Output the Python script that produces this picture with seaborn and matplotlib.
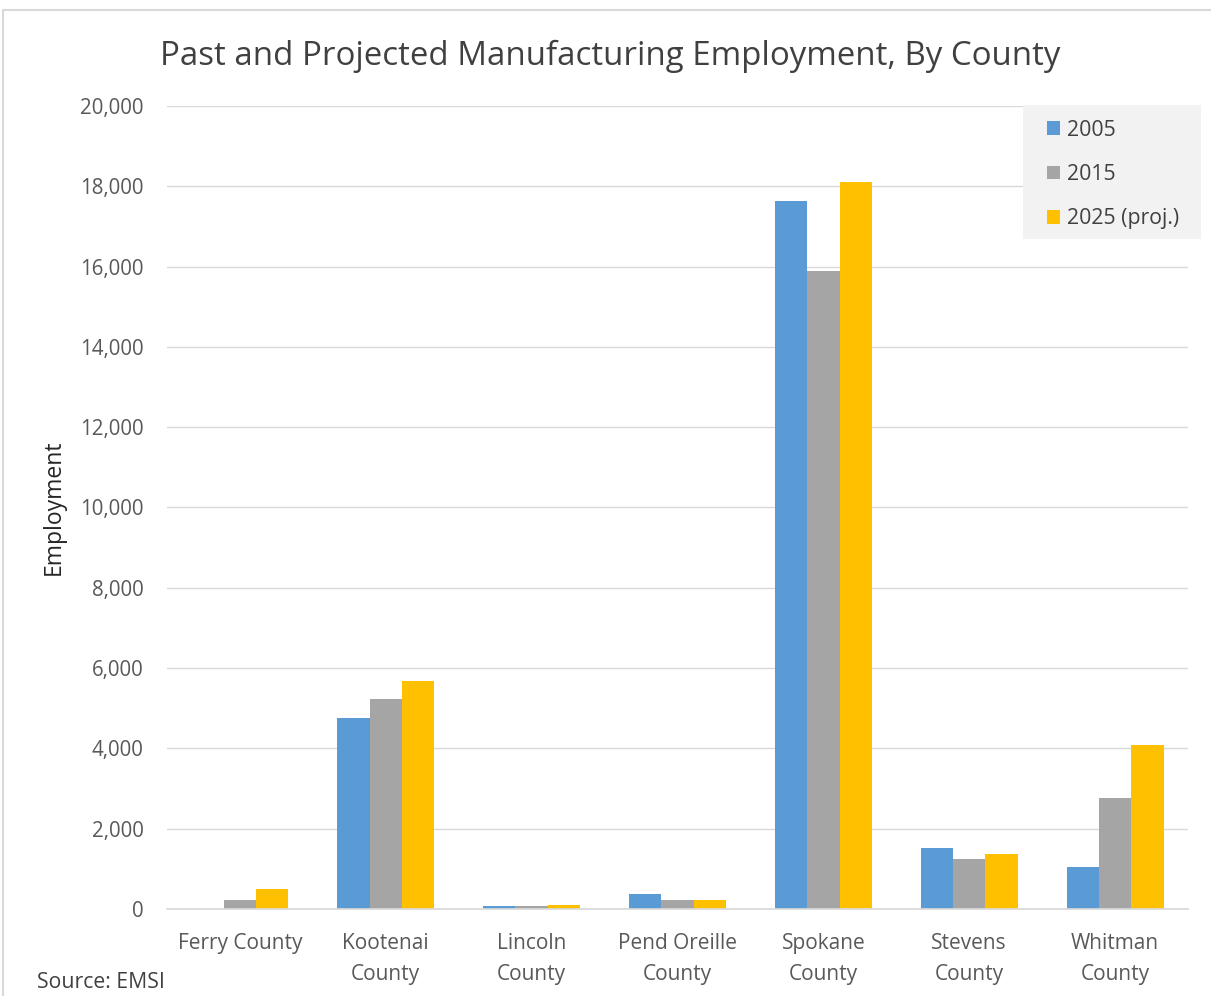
import matplotlib
matplotlib.use("Agg")
import matplotlib.pyplot as plt
import seaborn as sns
import pandas as pd
from matplotlib.patches import Rectangle
from matplotlib.ticker import FuncFormatter, MultipleLocator

counties = ["Ferry County", "Kootenai\nCounty", "Lincoln\nCounty", "Pend Oreille\nCounty",
            "Spokane\nCounty", "Stevens\nCounty", "Whitman\nCounty"]
series_names = ["2005", "2015", "2025 (proj.)"]
v2005 = [0, 4750, 75, 375, 17630, 1510, 1055]
v2015 = [230, 5230, 75, 225, 15890, 1240, 2760]
v2025 = [500, 5680, 100, 225, 18110, 1360, 4085]
colors = ["#5B9BD5", "#A5A5A5", "#FFC000"]

rows = []
for name, vals in zip(series_names, [v2005, v2015, v2025]):
    for c, v in zip(counties, vals):
        rows.append({"County": c, "Year": name, "Employment": v})
df = pd.DataFrame(rows)

sns.set_theme(style="white")
plt.rcParams["font.family"] = ["Open Sans", "DejaVu Sans"]

W, H = 1211, 996
fig = plt.figure(figsize=(W / 100, H / 100), dpi=100)
ax = fig.add_axes([167/W, 1 - 909/H, (1188-167)/W, (909-106)/H])

sns.barplot(data=df, x="County", y="Employment", hue="Year", palette=colors,
            width=0.665, gap=0, saturation=1, ax=ax, order=counties,
            hue_order=series_names, errorbar=None, linewidth=0, edgecolor="none")

ax.set_ylim(0, 20000)
ax.set_xlim(-0.5, 6.5)
ax.yaxis.set_major_locator(MultipleLocator(2000))
ax.yaxis.set_major_formatter(FuncFormatter(lambda v, p: f"{int(v):,}"))
ax.grid(axis="y", color="#D9D9D9", linewidth=1)
ax.set_axisbelow(True)
for s in ["top", "right", "left"]:
    ax.spines[s].set_visible(False)
ax.spines["bottom"].set_color("#D9D9D9")
ax.tick_params(axis="both", length=0, colors="#595959")
ax.tick_params(axis="x", pad=17, labelsize=15)
ax.tick_params(axis="y", pad=17, labelsize=14.8)
for lbl in ax.get_xticklabels():
    lbl.set_linespacing(1.62)
ax.set_xlabel("")
ax.set_ylabel("Employment", fontsize=16.5, color="#262626", labelpad=10)

# legend background box
ax.add_patch(Rectangle((1023/W, 1 - 239/H), (1201-1023)/W, (239-105)/H,
                       transform=fig.transFigure, facecolor="#F2F2F2",
                       edgecolor="none", zorder=4.5, clip_on=False))
leg = ax.legend(loc="upper left", bbox_to_anchor=(1047/W, 1 - 119.5/H),
                bbox_transform=fig.transFigure, frameon=False,
                fontsize=15.3, handlelength=0.6, handleheight=0.6, handletextpad=0.35,
                labelspacing=1.1, borderpad=0, borderaxespad=0, labelcolor="#404040")
leg.set_zorder(5)

fig.text(160/W, 1 - 56/H, "Past and Projected Manufacturing Employment, By County",
         fontsize=23.8, color="#404040", va="center", ha="left")
fig.text(37/W, 1 - 982/H, "Source: EMSI", fontsize=15.3, color="#404040",
         va="center", ha="left")

# screenshot border
fig.add_artist(plt.Line2D([3/W, 3/W], [0, 1 - 10/H], transform=fig.transFigure,
                          color="#D9D9D9", linewidth=1.5))
fig.add_artist(plt.Line2D([3/W, 1], [1 - 10/H, 1 - 10/H], transform=fig.transFigure,
                          color="#D9D9D9", linewidth=1.5))

fig.savefig("out.png", dpi=100)
